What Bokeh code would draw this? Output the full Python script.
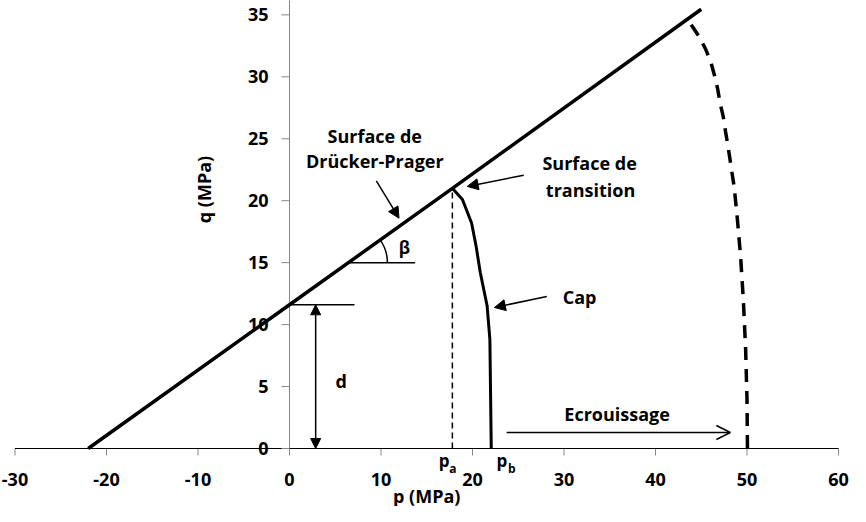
import numpy as np
from bokeh.plotting import figure
from bokeh.models import Arrow, NormalHead, OpenHead, Range1d
from bokeh.core.properties import value
from bokeh.embed import file_html
from bokeh.resources import INLINE

FONT = "Open Sans"

# ---- data ----
x_ticks = [-30, -20, -10, 0, 10, 20, 30, 40, 50, 60]
y_ticks = [0, 5, 10, 15, 20, 25, 30, 35]

# Drucker-Prager surface
p_dp = [-22.0, 0.0, 17.8, 45.0]
q_dp = [0.0, 11.6, 21.0, 35.45]

# Cap (solid)
p_cap = [17.8, 18.9, 19.9, 20.4, 20.85, 21.6, 21.9, 22.05]
q_cap = [21.0, 20.1, 18.2, 16.3, 14.2, 11.5, 8.8, 0.0]

# Cap after hardening (dashed)
p_cap2 = [43.9, 44.8, 45.5, 46.05, 46.45, 46.8, 47.05, 47.4, 47.65, 47.9, 48.15,
          48.35, 48.6, 48.95, 49.3, 49.6, 49.85, 50.0, 50.05]
q_cap2 = [34.2, 33.2, 32.2, 31.2, 30.1, 29.0, 27.9, 26.8, 25.6, 24.5, 23.3,
          22.3, 21.1, 18.5, 15.5, 12.0, 8.0, 4.0, 0.0]

p_a = 17.8
q_a = 21.0
p_b = 22.05
d_value = 11.6
beta_level = 15.0

# ---- figure geometry (axes drawn by hand: y axis sits at p = 0) ----
W, H = 850, 506
px = 9.15     # pixels per MPa along p
py = 12.39    # pixels per MPa along q
X0 = -289.0 / px
X1 = X0 + W / px
Y1 = 448.0 / py
Y0 = Y1 - H / py
X_AX0, X_AX1 = x_ticks[0], x_ticks[-1]
Y_TOP = 36.2

p = figure(width=W, height=H, x_range=Range1d(X0, X1), y_range=Range1d(Y0, Y1),
           output_backend="svg", toolbar_location=None,
           x_axis_type=None, y_axis_type=None,
           min_border_left=0, min_border_right=0, min_border_top=0, min_border_bottom=0)
p.outline_line_color = None
p.grid.visible = False
p.background_fill_color = "white"
p.border_fill_color = "white"

def txt(x, y, s, size="18px", style="bold", angle=0, align="center"):
    p.text(x=x, y=y, text=s, text_font=value(FONT), text_font_style=style,
           text_font_size=size, text_align=align, text_baseline="middle",
           text_color="black", angle=angle)

# x axis
xt_len = 7 / py
p.segment(x0=x_ticks, y0=[0] * len(x_ticks), x1=x_ticks, y1=[-xt_len] * len(x_ticks),
          line_color="#868686", line_width=1)
p.segment(x0=[X_AX0], y0=[0], x1=[X_AX1], y1=[0], line_color="black", line_width=1)
txt(x_ticks, [-31.0 / py] * len(x_ticks), [str(v) for v in x_ticks])

# y axis at p = 0
yt_len = 8 / px
p.segment(x0=[0], y0=[0], x1=[0], y1=[Y_TOP], line_color="#868686", line_width=1)
p.segment(x0=[-yt_len] * len(y_ticks), y0=y_ticks, x1=[0] * len(y_ticks), y1=y_ticks,
          line_color="#868686", line_width=1)
txt([-21.0 / px] * len(y_ticks), y_ticks, [str(v) for v in y_ticks], align="right")

# axis titles
txt([15.0], [-47.0 / py], ["p (MPa)"])
txt([-86.0 / px], [20.9], ["q (MPa)"], angle=np.pi / 2)

# curves
p.line(p_dp, q_dp, line_color="black", line_width=3.5)
p.line(p_cap, q_cap, line_color="black", line_width=3)
p.line(p_cap2, q_cap2, line_color="black", line_width=3.5, line_dash="13 9")
p.line([p_a, p_a], [0, q_a], line_color="black", line_width=1.5, line_dash="6 4")

# d marker
p.segment(x0=[0], y0=[d_value], x1=[7.1], y1=[d_value], line_color="black", line_width=1.5)
p.add_layout(Arrow(x_start=2.86, y_start=d_value, x_end=2.86, y_end=0.0,
                   line_width=1.5, line_color="black",
                   start=NormalHead(size=10, fill_color="black", line_color="black"),
                   end=NormalHead(size=10, fill_color="black", line_color="black")))

# beta
xb = float(np.interp(beta_level, q_dp, p_dp))
p.segment(x0=[xb], y0=[beta_level], x1=[13.73], y1=[beta_level], line_color="black", line_width=1.5)
slope = (q_dp[-1] - q_dp[0]) / (p_dp[-1] - p_dp[0])
ang = float(np.arctan(slope * py / px))
p.arc(x=[xb], y=[beta_level], radius=39 / px, start_angle=0, end_angle=ang,
      line_color="black", line_width=1.5)

# arrows
def arr(x0, y0, x1, y1, head):
    p.add_layout(Arrow(x_start=x0, y_start=y0, x_end=x1, y_end=y1, line_width=1.5,
                       line_color="black", end=head))

arr(9.49, 21.6, 11.97, 18.59, NormalHead(size=11, fill_color="black", line_color="black"))
arr(25.6, 22.06, 19.42, 21.15, NormalHead(size=11, fill_color="black", line_color="black"))
arr(28.12, 12.27, 22.39, 11.38, NormalHead(size=11, fill_color="black", line_color="black"))
arr(23.73, 1.29, 48.18, 1.29, OpenHead(size=14, line_color="black", line_width=1.5))

# annotation texts
txt([9.32], [25.2], ["Surface de"])
txt([9.32], [23.24], ["Drücker-Prager"])
txt([32.8], [23.08], ["Surface de"])
txt([32.9], [20.9], ["transition"])
txt([31.7], [12.19], ["Cap"])
txt([35.8], [2.82], ["Ecrouissage"])
txt([5.65], [5.46], ["d"])
txt([12.55], [16.2], ["β"], size="17px")

# p_a, p_b labels below the axis
txt([16.9, 23.2], [-1.0, -1.0], ["p", "p"], size="17px")
txt([17.85, 24.3], [-1.6, -1.6], ["a", "b"], size="12px")

open("out.html", "w").write(file_html(p, INLINE))
